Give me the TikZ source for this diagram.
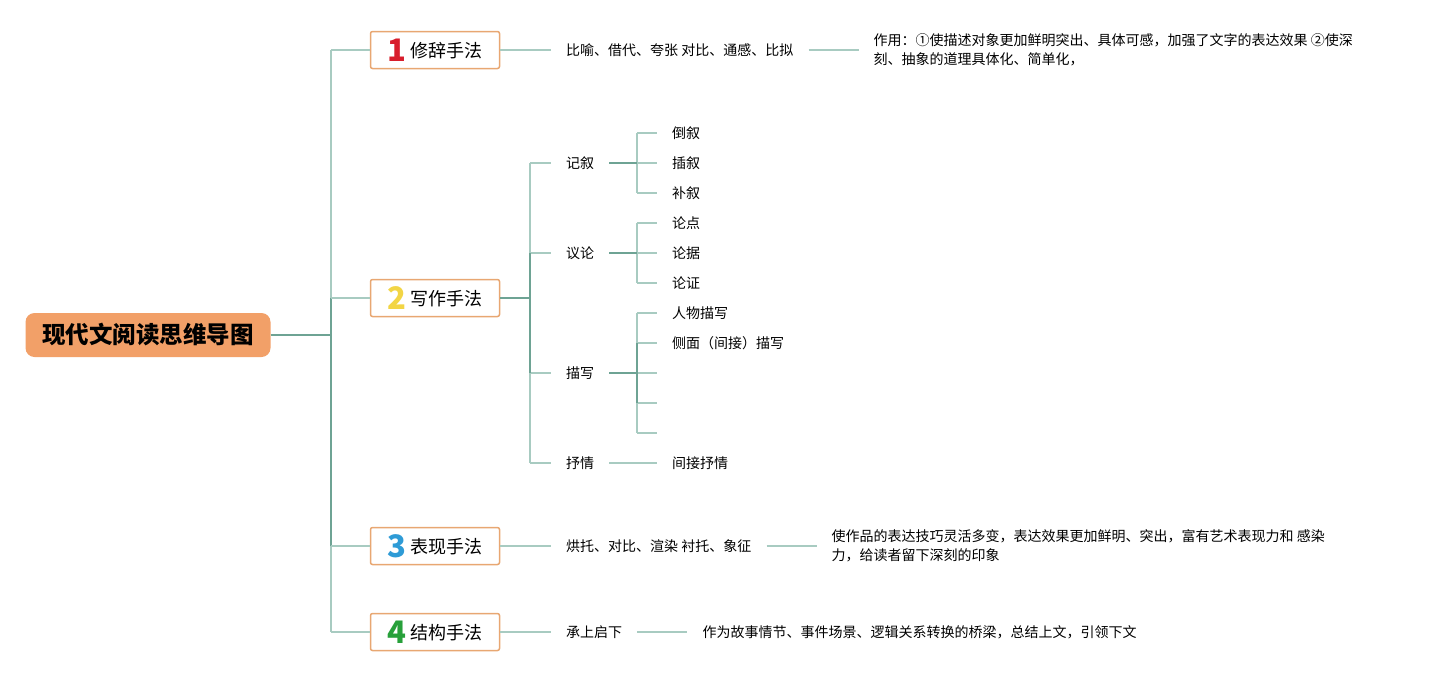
\documentclass[tikz,border=0pt]{standalone}
\usepackage{fontspec}
\setmainfont{Noto Sans CJK SC}
\usetikzlibrary{positioning}
\definecolor{linelite}{HTML}{A8CBC1}
\definecolor{linedark}{HTML}{6EA394}
\definecolor{boxedge}{HTML}{E8A772}
\definecolor{rootfill}{HTML}{F2A068}
\definecolor{numred}{HTML}{D81E2C}
\definecolor{numyellow}{HTML}{F2D545}
\definecolor{numblue}{HTML}{2E9BD6}
\definecolor{numgreen}{HTML}{27A03A}
\newcommand{\bignum}[2]{\raisebox{-4pt}{\fontsize{31}{31}\selectfont\bfseries\color{#1}#2}\hspace{5pt}}
\tikzset{
  root node/.style={
    fill=rootfill,
    draw=none,
    rounded corners=9pt,
    minimum width=245pt,
    minimum height=44pt,
    inner sep=0pt,
    font=\fontsize{23.5}{28}\selectfont\bfseries
  },
  topic node/.style={
    draw=boxedge,
    line width=1.5pt,
    fill=white,
    rounded corners=2pt,
    minimum width=129pt,
    minimum height=37pt,
    inner sep=0pt,
    font=\fontsize{18}{22}\selectfont
  },
  item node/.style={
    anchor=west,
    inner xsep=15pt,
    inner ysep=0pt,
    align=left,
    font=\fontsize{14}{19}\selectfont
  },
  lite/.style={draw=linelite, line width=1.5pt},
  dark/.style={draw=linedark, line width=1.5pt}
}

\begin{document}
\begin{tikzpicture}[x=1pt,y=-1pt]
  \useasboundingbox (0,0) rectangle (1433,675);

  \node[root node] (root) at (148,335) {现代文阅读思维导图};
  \node[topic node] (t1) at (435,50) {\bignum{numred}{1}修辞手法};
  \node[topic node] (t2) at (435,298) {\bignum{numyellow}{2}写作手法};
  \node[topic node] (t3) at (435,546) {\bignum{numblue}{3}表现手法};
  \node[topic node] (t4) at (435,632) {\bignum{numgreen}{4}结构手法};

  % trunk
  \coordinate (trunk) at (331,335);
  \draw[dark] (root.east) -- (trunk);
  \draw[lite] (trunk |- t1) -- (trunk |- t4);
  \draw[dark] (trunk |- t2) -- (trunk |- t3);
  \foreach \t in {t1,t2,t3,t4}
    \draw[lite] (trunk |- \t) -- (\t.west);

  % 修辞手法
  \node[item node] (r1) at (551,50) {比喻、借代、夸张 对比、通感、比拟};
  \node[item node, right=50pt of r1] (r1e) {作用：①使描述对象更加鲜明突出、具体可感，加强了文字的表达效果 ②使深\\刻、抽象的道理具体化、简单化，};
  \draw[lite] (t1.east) -- (r1.west);
  \draw[lite] (r1.east) -- (r1e.west);

  % 写作手法
  \coordinate (s2) at (530,298);
  \draw[dark] (t2.east) -- (s2);
  \foreach \y/\n/\txt in {163/jx/记叙,253/yl/议论,373/mx/描写,463/sq/抒情}
  {
    \node[item node] (\n) at (551,\y) {\txt};
    \draw[lite] (s2 |- \n) -- (\n.west);
  }
  \draw[lite] (s2 |- jx) -- (s2 |- sq);
  \draw[dark] (s2 |- yl) -- (s2 |- mx);

  \coordinate (sub) at (637,373);
  \foreach \y/\n/\txt in {133/jx1/倒叙,163/jx2/插叙,193/jx3/补叙,223/yl1/论点,253/yl2/论据,283/yl3/论证,313/mx1/人物描写,343/mx2/侧面（间接）描写}
  {
    \node[item node] (\n) at (657,\y) {\txt};
    \draw[lite] (sub |- \n) -- (\n.west);
  }
  \foreach \y/\n in {373/mx3,403/mx4,433/mx5}
  {
    \coordinate (\n) at (657,\y);
    \draw[lite] (sub |- \n) -- (\n);
  }
  \draw[lite] (sub |- jx1) -- (sub |- jx3);
  \draw[lite] (sub |- yl1) -- (sub |- yl3);
  \draw[lite] (sub |- mx1) -- (sub |- mx5);
  \draw[dark] (sub |- mx2) -- (sub |- mx4);
  \foreach \p in {jx,yl,mx}
    \draw[dark] (\p.east) -- (sub |- \p);
  \node[item node] (sq1) at (657,463) {间接抒情};
  \draw[lite] (sq.east) -- (sq1.west);

  % 表现手法
  \node[item node] (r3) at (551,546) {烘托、对比、渲染 衬托、象征};
  \node[item node, right=50pt of r3] (r3e) {使作品的表达技巧灵活多变，表达效果更加鲜明、突出，富有艺术表现力和 感染\\力，给读者留下深刻的印象};
  \draw[lite] (t3.east) -- (r3.west);
  \draw[lite] (r3.east) -- (r3e.west);

  % 结构手法
  \node[item node] (r4) at (551,632) {承上启下};
  \node[item node, right=50pt of r4] (r4e) {作为故事情节、事件场景、逻辑关系转换的桥梁，总结上文，引领下文};
  \draw[lite] (t4.east) -- (r4.west);
  \draw[lite] (r4.east) -- (r4e.west);
\end{tikzpicture}
\end{document}
